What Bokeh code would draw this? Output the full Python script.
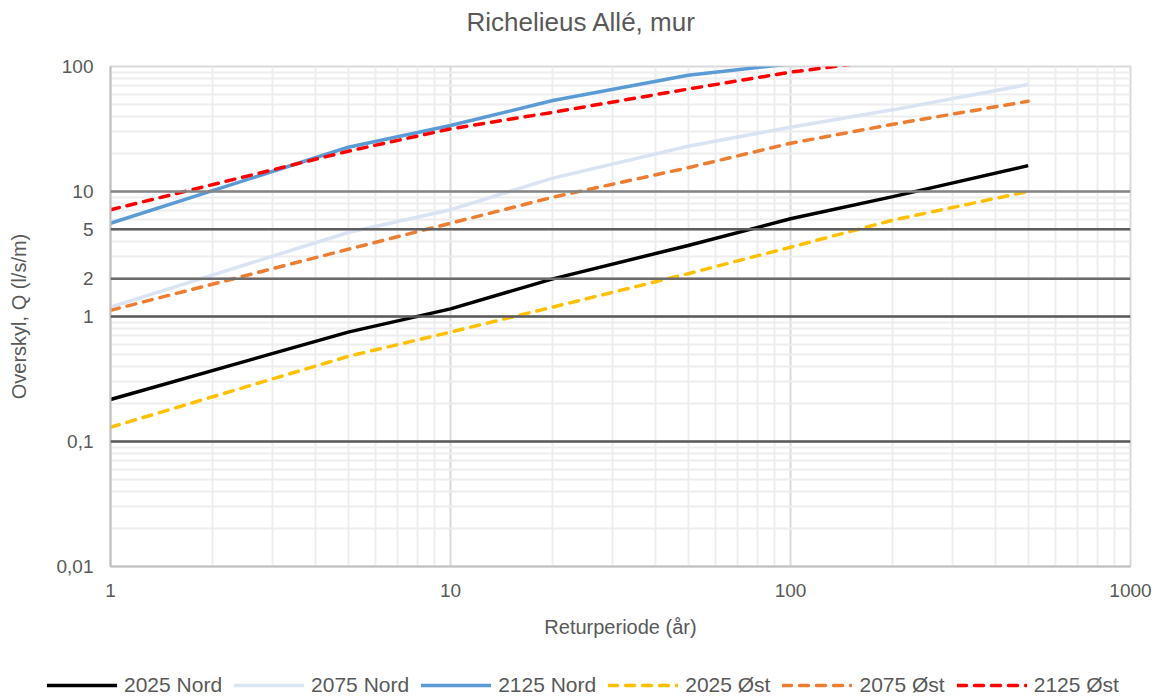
from bokeh.plotting import figure
from bokeh.layouts import column
from bokeh.models import (FixedTicker, CustomJSTickFormatter, Span, Legend, LegendItem, Title)
from bokeh.embed import file_html
from bokeh.resources import INLINE

# ---- data ----
return_periods = [1, 5, 10, 20, 50, 100, 200, 500]
q_2025_nord = [0.217, 0.75, 1.15, 2.0, 3.7, 6.05, 9.1, 16.1]
q_2075_nord = [1.19, 4.7, 7.15, 12.8, 23.0, 32.7, 45.0, 71.8]
q_2125_nord = [5.57, 22.6, 33.7, 53.5, 85.0, 105.0, 145.0, 220.0]
q_2025_ost = [0.13, 0.48, 0.75, 1.19, 2.2, 3.58, 5.9, 10.0]
q_2075_ost = [1.12, 3.45, 5.57, 9.0, 15.5, 24.3, 34.5, 52.7]
q_2125_ost = [7.14, 21.0, 31.7, 43.0, 66.0, 90.0, 115.0, 165.0]

series_names = ["2025 Nord", "2075 Nord", "2125 Nord", "2025 Øst", "2075 Øst", "2125 Øst"]
series_values = [q_2025_nord, q_2075_nord, q_2125_nord, q_2025_ost, q_2075_ost, q_2125_ost]

x_ticks = [1, 10, 100, 1000]
y_ticks = [0.01, 0.1, 1, 2, 5, 10, 100]
ref_levels = [0.1, 1, 2, 5, 10]

# ---- styles ----
series_colors = ["#000000", "#DAE3F3", "#5B9BD5", "#FFC000", "#ED7D31", "#FF0000"]
series_dash = ["solid", "solid", "solid", "9 8", "9 8", "9 8"]
ref_colors = ["#595959", "#595959", "#6B6B6B", "#5E5E5E", "#858585"]
TXT = "#595959"
FONT = "Liberation Sans"

x_minor = [k * 10 ** d for d in range(0, 3) for k in range(2, 10)]
y_minor = [k * 10 ** d for d in range(-2, 2) for k in range(2, 10)]

p = figure(width=1152, height=646, x_axis_type="log", y_axis_type="log",
           x_range=(1, 1000), y_range=(0.01, 100),
           output_backend="svg", toolbar_location=None,
           min_border_left=110, min_border_right=22, min_border_top=66,
           min_border_bottom=80)

# spacer panel between frame and title
p.add_layout(Title(text=" ", text_font_size="20px", standoff=2), "above")
p.add_layout(Title(text="Richelieus Allé, mur", align="left", offset=356,
                   text_font=FONT, text_font_size="26px", text_font_style="normal",
                   text_color=TXT, standoff=8), "above")

p.outline_line_color = "#D9D9D9"
p.outline_line_width = 2

fmt = CustomJSTickFormatter(code="return String(tick).replace('.', ',');")

p.xaxis.ticker = FixedTicker(ticks=x_ticks, minor_ticks=x_minor)
p.yaxis.ticker = FixedTicker(ticks=y_ticks, minor_ticks=y_minor)
for ax in (p.xaxis[0], p.yaxis[0]):
    ax.formatter = fmt
    ax.major_tick_out = 0
    ax.major_tick_in = 0
    ax.minor_tick_out = 0
    ax.minor_tick_in = 0
    ax.axis_line_color = "#BFBFBF"
    ax.axis_line_width = 2
    ax.major_label_text_font = FONT
    ax.major_label_text_font_size = "19px"
    ax.major_label_text_color = TXT
    ax.axis_label_text_font = FONT
    ax.axis_label_text_font_size = "20px"
    ax.axis_label_text_font_style = "normal"
    ax.axis_label_text_color = TXT

p.xaxis.axis_label = "Returperiode (år)"
p.yaxis.axis_label = "Overskyl, Q (l/s/m)"
p.xaxis.major_label_standoff = 17
p.xaxis.axis_label_standoff = 16
p.yaxis.major_label_standoff = 17
p.yaxis.axis_label_standoff = 24

p.xgrid.grid_line_color = "#D9D9D9"
p.xgrid.grid_line_width = 2
p.xgrid.minor_grid_line_color = "#EDEDED"
p.xgrid.minor_grid_line_width = 2
p.ygrid.grid_line_color = "#D9D9D9"
p.ygrid.grid_line_width = 2
p.ygrid.minor_grid_line_color = "#EDEDED"
p.ygrid.minor_grid_line_width = 2

for lvl, col in zip(ref_levels, ref_colors):
    p.add_layout(Span(location=lvl, dimension="width", line_color=col, line_width=2.5))

for vals, col, dash in zip(series_values, series_colors, series_dash):
    p.line(return_periods, vals, line_color=col, line_width=3.5,
           line_dash=dash, line_cap="round" if dash != "solid" else "butt")

# ---- legend strip below the chart (its own ranges keep the lines out of view) ----
lg = figure(width=1152, height=50, output_backend="svg", toolbar_location=None,
            x_axis_location=None, y_axis_location=None, min_border=0,
            x_range=(-2, -1), y_range=(-2, -1))
lg.grid.visible = False
lg.outline_line_color = None
if hasattr(lg, "frame_align"):
    lg.frame_align = False

items = []
for name, vals, col, dash in zip(series_names, series_values, series_colors, series_dash):
    r = lg.line(return_periods, vals, line_color=col, line_width=3.5, line_dash=dash,
                line_cap="round")
    items.append(LegendItem(label=name, renderers=[r]))

legend = Legend(items=items, orientation="horizontal", location=(47, -1),
                border_line_color=None, background_fill_alpha=0,
                label_text_font=FONT, label_text_font_size="21px",
                label_text_color=TXT, glyph_width=70, glyph_height=20,
                label_standoff=7, spacing=12, padding=0, margin=0)
lg.add_layout(legend, "center")

layout = column(p, lg, spacing=0)
open("out.html", "w").write(file_html(layout, INLINE))
